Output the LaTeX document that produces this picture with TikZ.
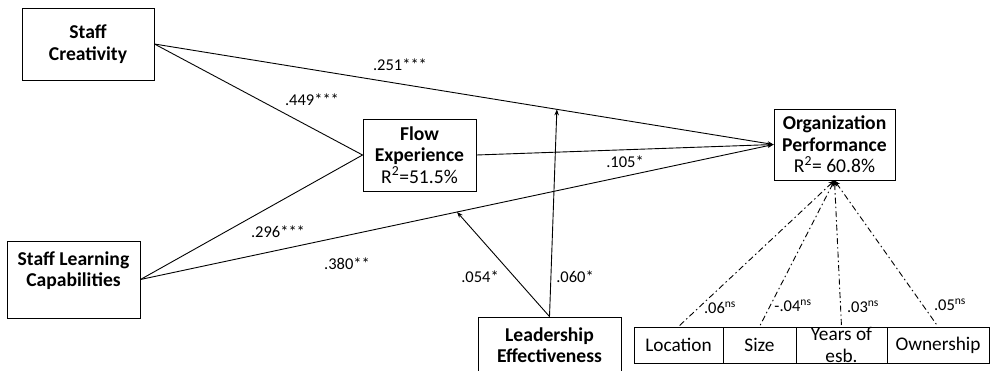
\documentclass[tikz,border=0pt]{standalone}
\usepackage{fontspec}
\setmainfont{Carlito}
\usetikzlibrary{arrows.meta,calc}
\begin{document}
\begin{tikzpicture}[x=1pt,y=-1pt,
  box/.style={draw, line width=0.9pt, inner sep=0pt, fill=white},
  btxt/.style={align=center, font=\fontsize{19.6}{21.5}\selectfont\bfseries, inner sep=0pt},
  rtxt/.style={align=center, font=\fontsize{19.3}{21.5}\selectfont, inner sep=0pt},
  lab/.style={font=\fontsize{16.5}{18}\selectfont, inner sep=0pt},
  path/.style={line width=0.9pt, -{Stealth[length=6pt,width=4.5pt]}},
  ctrl/.style={line width=0.9pt, dash pattern=on 6pt off 3pt on 1.5pt off 3pt, {Stealth[length=6pt,width=5pt]}-}
]
\clip (0,0) rectangle (990,370);
\fill[white] (0,0) rectangle (990,370);
% boxes
\node[box, minimum width=132, minimum height=72] (sc) at (88,44) {};
\node[btxt] (sct) at (88,44) {Staff\\Creativity};
\node[box, minimum width=133, minimum height=77] (slc) at (73.5,279.5) {};
\node[btxt] (slct) at (73.5,270.5) {Staff Learning\\Capabilities};
\node[box, minimum width=113, minimum height=72, btxt, align=center] (fe) at (419.5,155) {Flow\\Experience\\\mdseries R\textsuperscript{2}=51.5\%};
\node[box, minimum width=121, minimum height=71, btxt, align=center] (op) at (834.5,144.5) {Organization\\Performance\\\mdseries R\textsuperscript{2}= 60.8\%};
\node[box, minimum width=143, minimum height=70] (le) at (549.5,352) {};
\node[btxt] (let) at (549.5,345) {Leadership\\Effectiveness};
% control boxes
\node[box, rtxt, minimum width=89, minimum height=36] (loc) at (678.5,345) {Location};
\node[box, rtxt, minimum width=73, minimum height=36] (siz) at (759.5,345) {Size};
\node[box, rtxt, minimum width=91, minimum height=36] (yrs) at (841.5,345) {Years of\\esb.};
\node[box, rtxt, minimum width=102, minimum height=36] (own) at (938,345) {Ownership};
% paths
\draw[path] (sc.east) -- (op.west);
\draw[path] (fe.east) -- (op.west);
\draw[path] (slc.east) -- (op.west);
\draw[line width=0.9pt] (sc.east) -- (fe.west);
\draw[line width=0.9pt] (slc.east) -- (fe.west);
\coordinate (m1) at ($(sc.east)!0.65!(op.west)$);
\coordinate (m2) at ($(slc.east)!0.5!(op.west)$);
\draw[path] (le.north) -- (m1);
\draw[path] (le.north) -- (m2);
\draw[ctrl] (op.south) -- (loc.north);
\draw[ctrl] (op.south) -- (siz.north);
\draw[ctrl] (op.south) -- (yrs.north);
\draw[ctrl] (op.south) -- (own.north);
% labels
\node[lab] (l1) at (400,65) {.251***};
\node[lab] (l2) at (312,100) {.449***};
\node[lab] (l3) at (278,232) {.296***};
\node[lab] (l4) at (347,264) {.380**};
\node[lab] (l5) at (625,162) {.105*};
\node[lab] (l6) at (480,277) {.054*};
\node[lab] (l7) at (575,277) {.060*};
\node[lab] (l8) at (720,308) {.06\textsuperscript{ns}};
\node[lab] (l9) at (793,306) {-.04\textsuperscript{ns}};
\node[lab] (l10) at (863,307) {.03\textsuperscript{ns}};
\node[lab] (l11) at (950,305) {.05\textsuperscript{ns}};
\end{tikzpicture}
\end{document}
